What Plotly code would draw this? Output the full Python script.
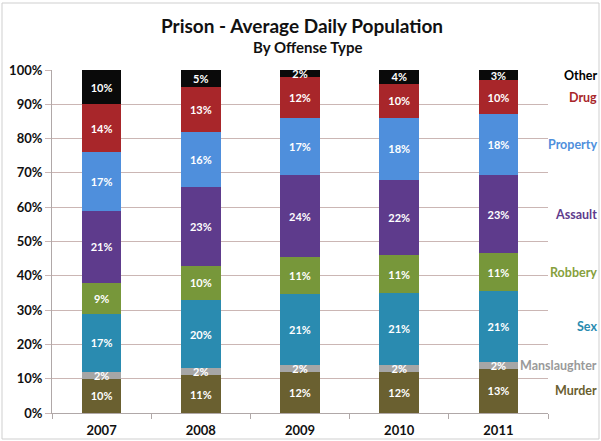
import plotly.graph_objects as go

years = ["2007", "2008", "2009", "2010", "2011"]
categories = ["Murder", "Manslaughter", "Sex", "Robbery", "Assault", "Property", "Drug", "Other"]
murder = [10, 11, 12, 12, 13]
manslaughter = [2, 2, 2, 2, 2]
sex = [17, 20, 21, 21, 21]
robbery = [9, 10, 11, 11, 11]
assault = [21, 23, 24, 22, 23]
property_ = [17, 16, 17, 18, 18]
drug = [14, 13, 12, 10, 10]
other = [10, 5, 2, 4, 3]
y_ticks = [0, 10, 20, 30, 40, 50, 60, 70, 80, 90, 100]
y_tick_labels = ["0%", "10%", "20%", "30%", "40%", "50%", "60%", "70%", "80%", "90%", "100%"]

series = [murder, manslaughter, sex, robbery, assault, property_, drug, other]
colors = ["#6a6030", "#a6a6a6", "#2a8bb0", "#77973a", "#5e3b8c", "#4f8fdc", "#a8262a", "#0a0a0a"]
label_colors = ["#6a6030", "#9a9a9a", "#2a8bb0", "#86a03c", "#5e3b8c", "#4f8fdc", "#a8262a", "#000000"]

FONT = "Lato, 'Open Sans', sans-serif"

W, H = 601, 441
L, R, T, B = 52, 53, 70, 28
PW, PH = W - L - R, H - T - B


def px_x(p):
    return (p - L) / PW


def px_y(p):
    return (H - B - p) / PH


fig = go.Figure()
for name, vals, col in zip(categories, series, colors):
    fig.add_trace(go.Bar(
        x=years, y=vals, name=name, marker=dict(color=col, line=dict(width=0)),
        text=[f"{v}%" for v in vals], textposition="inside", insidetextanchor="middle",
        textfont=dict(color="white", size=11, family=FONT, weight="bold"),
        hoverinfo="skip", cliponaxis=False,
    ))

# right-side series labels at the middle of each 2011 segment
last = [s[-1] for s in series]
total = sum(last)
annotations = []
cum = 0
for name, v, col in zip(categories, last, label_colors):
    mid = (cum + v / 2) / total * 100
    cum += v
    annotations.append(dict(
        x=px_x(599), xref="paper", y=mid, yref="y", text=name, showarrow=False,
        xanchor="right", yanchor="middle",
        font=dict(color=col, size=12.5, family=FONT, weight="bold"),
    ))

annotations.append(dict(
    x=px_x(302), xref="paper", y=px_y(25), yref="paper",
    text="<b>Prison - Average Daily Population</b>",
    showarrow=False, xanchor="center", yanchor="middle",
    font=dict(size=19, color="#111", family=FONT),
))
annotations.append(dict(
    x=px_x(307), xref="paper", y=px_y(47), yref="paper", text="<b>By Offense Type</b>",
    showarrow=False, xanchor="center", yanchor="middle",
    font=dict(size=15, color="#111", family=FONT),
))

fig.update_layout(
    barmode="stack", barnorm="percent", bargap=0.6,
    width=W, height=H,
    margin=dict(l=L, r=R, t=T, b=B, autoexpand=False),
    paper_bgcolor="white", plot_bgcolor="white",
    showlegend=False,
    font=dict(family=FONT, color="#111"),
    uniformtext=dict(minsize=11, mode="show"),
    annotations=annotations,
    shapes=[dict(type="rect", xref="paper", yref="paper",
                 x0=px_x(2), x1=px_x(599),
                 y0=px_y(439), y1=px_y(3),
                 line=dict(color="#cfcfcf", width=1), fillcolor="rgba(0,0,0,0)", layer="below")],
)
fig.update_yaxes(
    range=[0, 100], tickvals=y_ticks, ticktext=y_tick_labels,
    showgrid=True, gridcolor="#cbb6b4", gridwidth=1,
    showline=True, linecolor="#b0a8a8", linewidth=1,
    ticks="outside", ticklen=6, tickcolor="#cbb6b4",
    tickfont=dict(size=13, color="#111", family=FONT, weight="bold"),
    zeroline=False,
)
fig.update_xaxes(
    showline=True, linecolor="#b0a8a8", linewidth=1,
    ticks="outside", ticklen=5, tickcolor="#b0a8a8", tickson="boundaries",
    ticklabelstandoff=5,
    tickfont=dict(size=13, color="#111", family=FONT, weight="bold"),
)

fig.write_html("out.html", config={"displayModeBar": False},
               post_script="document.body.style.margin='0px';")
